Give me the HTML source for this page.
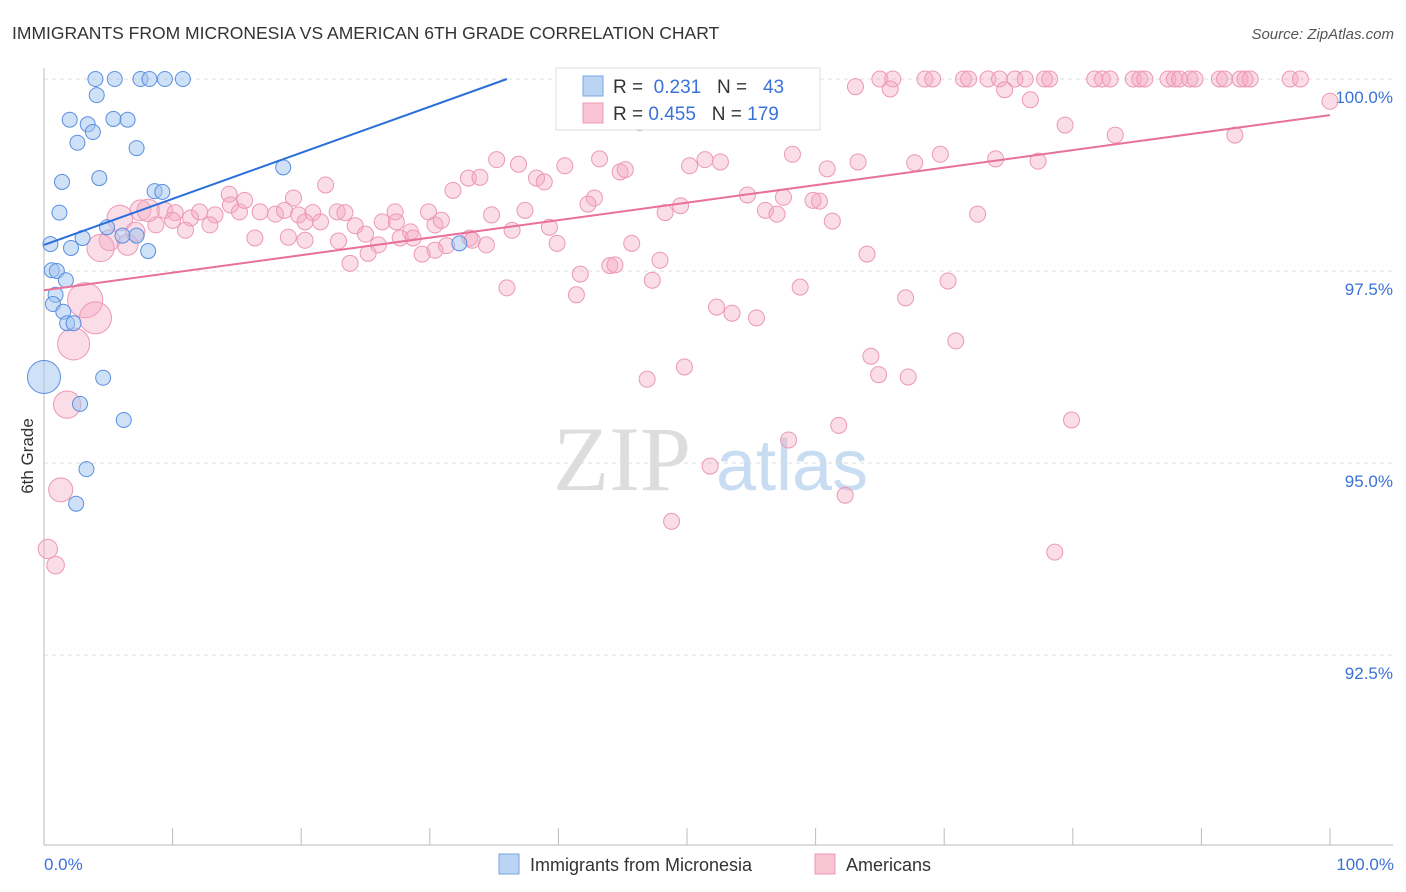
<!DOCTYPE html>
<html><head><meta charset="utf-8"><style>
body{margin:0;background:#fff;font-family:"Liberation Sans",sans-serif}
svg{display:block}
</style></head><body>
<svg id="chart" width="1406" height="892" viewBox="0 0 1406 892">
<text x="12" y="39" font-size="17.5" fill="#333">IMMIGRANTS FROM MICRONESIA VS AMERICAN 6TH GRADE CORRELATION CHART</text>
<text x="1394" y="39" font-size="15" fill="#555" font-style="italic" text-anchor="end">Source: ZipAtlas.com</text>
<g>
<text x="553" y="490" font-size="92" fill="#ddd" font-family="Liberation Serif, serif">ZIP</text>
<text x="716" y="490" font-size="72" fill="#c8dcf2">atlas</text>
</g>
<g id="grid"></g>
<g id="axes"></g>
<g id="pink"></g>
<g id="blue"></g>
<g id="lines"></g>
<g>
<rect x="556" y="68" width="264" height="62" fill="#fff" stroke="#ddd"/>
<rect x="583" y="76" width="20" height="20" fill="#bcd4f4" stroke="#7aa6e4"/>
<rect x="583" y="103" width="20" height="20" fill="#f8c4d4" stroke="#ec98b4"/>
<text x="613" y="93" font-size="19" fill="#333">R = <tspan fill="#3a72d8">&#160;0.231</tspan>&#160;&#160;&#160;N = <tspan fill="#3a72d8">&#160;&#160;43</tspan></text>
<text x="613" y="120" font-size="19" fill="#333">R = <tspan fill="#3a72d8">0.455</tspan>&#160;&#160;&#160;N = <tspan fill="#3a72d8">179</tspan></text>
</g>
<text transform="translate(33,456) rotate(-90)" font-size="17" fill="#333" text-anchor="middle">6th Grade</text>
<text x="44" y="870" font-size="17" fill="#3a72d8">0.0%</text>
<text x="1394" y="870" font-size="17" fill="#3a72d8" text-anchor="end">100.0%</text>
<g>
<rect x="499" y="854" width="20" height="20" fill="#bcd4f4" stroke="#7aa6e4"/>
<text x="530" y="871" font-size="18" fill="#333">Immigrants from Micronesia</text>
<rect x="815" y="854" width="20" height="20" fill="#f8c4d4" stroke="#ec98b4"/>
<text x="846" y="871" font-size="18" fill="#333">Americans</text>
</g>
</svg>
<script>
const yTicks=[100,97.5,95,92.5];
const yTickLabels=["100.0%","97.5%","95.0%","92.5%"];
const blueTrend=[97.84,0.06];
const pinkTrend=[97.25,0.0228];
const bluePts=[[4.0,100,1],[5.5,100,1],[7.5,100,1],[8.2,100,1],[9.4,100,1],[10.8,100,1],[4.1,99.79,1],[2.0,99.47,1],[3.4,99.41,1],[5.4,99.48,1],[6.5,99.47,1],[3.8,99.31,1],[2.6,99.17,1],[7.2,99.10,1],[1.4,98.66,1],[4.3,98.71,1],[1.2,98.26,1],[8.6,98.54,1],[9.2,98.53,1],[18.6,98.85,1],[4.9,98.07,1],[6.1,97.96,1],[7.2,97.96,1],[3.0,97.93,1],[8.1,97.76,1],[0.5,97.85,1],[2.1,97.80,1],[0.6,97.51,1],[1.0,97.50,1],[1.7,97.38,1],[0.9,97.19,1],[0.7,97.07,1],[1.5,96.97,1],[1.8,96.82,1],[2.3,96.82,1],[0,96.12,2.2],[4.6,96.11,1],[2.8,95.77,1],[6.2,95.56,1],[3.3,94.92,1],[2.5,94.47,1],[32.3,97.86,1]];
const pinkTopX=[59.2,65.0,66.0,68.5,69.1,71.5,71.9,73.4,74.3,75.5,76.3,77.8,78.2,81.7,82.3,82.9,84.7,85.2,85.6,87.4,87.9,88.3,89.1,89.5,91.4,91.8,93.0,93.4,93.8,96.9,97.7];
const pinkPts=[[63.1,99.90,1],[65.8,99.87,1],[74.7,99.86,1],[76.7,99.73,1],[100,99.71,1],[46.3,99.43,1],[79.4,99.40,1],[92.6,99.27,1],[83.3,99.27,1],[58.2,99.02,1],[69.7,99.02,1],[74.0,98.96,1],[77.3,98.93,1],[67.7,98.91,1],[63.3,98.92,1],[60.9,98.83,1],[35.2,98.95,1],[36.9,98.89,1],[43.2,98.96,1],[51.4,98.95,1],[52.6,98.92,1],[50.2,98.87,1],[40.5,98.87,1],[44.8,98.79,1],[45.2,98.82,1],[33.0,98.71,1],[33.9,98.72,1],[38.3,98.71,1],[38.9,98.66,1],[31.8,98.55,1],[21.9,98.62,1],[14.4,98.50,1],[19.4,98.45,1],[42.8,98.45,1],[54.7,98.49,1],[57.5,98.46,1],[60.3,98.41,1],[59.8,98.42,1],[49.5,98.35,1],[42.3,98.37,1],[48.3,98.26,1],[56.1,98.29,1],[57.0,98.24,1],[61.3,98.15,1],[72.6,98.24,1],[37.4,98.29,1],[29.9,98.27,1],[34.8,98.23,1],[27.3,98.27,1],[14.5,98.36,1],[9.4,98.29,1],[7.5,98.29,1.3],[10.2,98.26,1],[11.4,98.19,1],[12.1,98.27,1],[13.3,98.23,1],[12.9,98.10,1],[15.2,98.27,1],[15.6,98.42,1],[16.8,98.27,1],[18.0,98.24,1],[18.7,98.29,1],[19.8,98.23,1],[20.9,98.26,1],[21.5,98.14,1],[20.3,98.14,1],[22.8,98.27,1],[23.4,98.26,1],[24.2,98.09,1],[25.0,97.98,1],[26.3,98.14,1],[27.4,98.14,1],[28.5,98.01,1],[27.7,97.93,1],[22.9,97.89,1],[26.0,97.84,1],[25.2,97.73,1],[23.8,97.60,1],[30.4,98.10,1],[30.9,98.16,1],[33.1,97.93,1],[34.4,97.84,1],[36.4,98.03,1],[39.3,98.07,1],[39.9,97.86,1],[33.3,97.90,1],[31.3,97.83,1],[30.4,97.77,1],[29.4,97.72,1],[28.7,97.93,1],[45.7,97.86,1],[47.9,97.64,1],[41.7,97.46,1],[44.0,97.57,1],[44.4,97.58,1],[47.3,97.38,1],[41.4,97.19,1],[36.0,97.28,1],[52.3,97.03,1],[53.5,96.95,1],[55.4,96.89,1],[58.8,97.29,1],[64.0,97.72,1],[67.0,97.15,1],[70.3,97.37,1],[70.9,96.59,1],[64.3,96.39,1],[64.9,96.15,1],[67.2,96.12,1],[46.9,96.09,1],[49.8,96.25,1],[79.9,95.56,1],[61.8,95.49,1],[57.9,95.30,1],[51.8,94.96,1],[62.3,94.58,1],[48.8,94.24,1],[78.6,93.84,1],[5.9,98.19,1.6],[5.1,97.90,1.3],[4.4,97.80,1.7],[6.5,97.84,1.3],[3.2,97.12,2.2],[4.0,96.89,2.0],[2.3,96.55,2.0],[1.8,95.76,1.7],[1.3,94.65,1.5],[0.3,93.88,1.2],[0.9,93.67,1.1],[8.7,98.10,1],[8.1,98.29,1.4],[11.0,98.03,1],[16.4,97.93,1],[19.0,97.94,1],[20.3,97.90,1],[10.0,98.16,1],[7.1,98.01,1.2]];
const NS="http://www.w3.org/2000/svg";
const X=v=>44+v*12.86;
const Y=v=>79+(100-v)*76.8;
function mk(tag,attrs,parent){const e=document.createElementNS(NS,tag);for(const k in attrs)e.setAttribute(k,attrs[k]);parent.appendChild(e);return e;}
const grid=document.getElementById('grid');
yTicks.forEach((t,i)=>{
 const l=mk('line',{x1:44,x2:1393,y1:Y(t),y2:Y(t),stroke:'#ddd','stroke-dasharray':'4,4'},grid);
 
 
 const tx=mk('text',{x:1393,y:Y(t)+24,'font-size':17,fill:'#3a72d8','text-anchor':'end'},grid);
 tx.textContent=yTickLabels[i];
 
 
});
const axes=document.getElementById('axes');
const ax=mk('line',{x1:44,x2:1393,y1:845,y2:845,stroke:'#bbb'},axes);


const ay=mk('line',{x1:44,x2:44,y1:68,y2:845,stroke:'#bbb'},axes);


for(let k=1;k<=10;k++){
 const t=mk('line',{x1:X(k*10),x2:X(k*10),y1:828,y2:845,stroke:'#bbb'},axes);
 
 
}
const pg=document.getElementById('pink');
const allPink=pinkTopX.map(x=>[x,100,1]).concat(pinkPts);
allPink.forEach(p=>{
 const c=mk('circle',{cx:X(p[0]),cy:Y(p[1]),r:8*p[2],fill:'rgba(244,170,196,0.4)',stroke:'#ec98b4','stroke-width':1},pg);
 
 
});
const bg=document.getElementById('blue');
bluePts.forEach(p=>{
 const c=mk('circle',{cx:X(p[0]),cy:Y(p[1]),r:7.5*p[2],fill:'rgba(160,196,240,0.5)',stroke:'#5a8ee0','stroke-width':1},bg);
 
 
});
const lg=document.getElementById('lines');
const bxEnd=(100-blueTrend[0])/blueTrend[1];
const bl=mk('line',{x1:X(0),y1:Y(blueTrend[0]),x2:X(bxEnd),y2:Y(100),stroke:'#2a6fdb','stroke-width':2},lg);


const pl=mk('line',{x1:X(0),y1:Y(pinkTrend[0]),x2:X(100),y2:Y(pinkTrend[0]+100*pinkTrend[1]),stroke:'#e8709a','stroke-width':2},lg);


</script>
</body></html>
